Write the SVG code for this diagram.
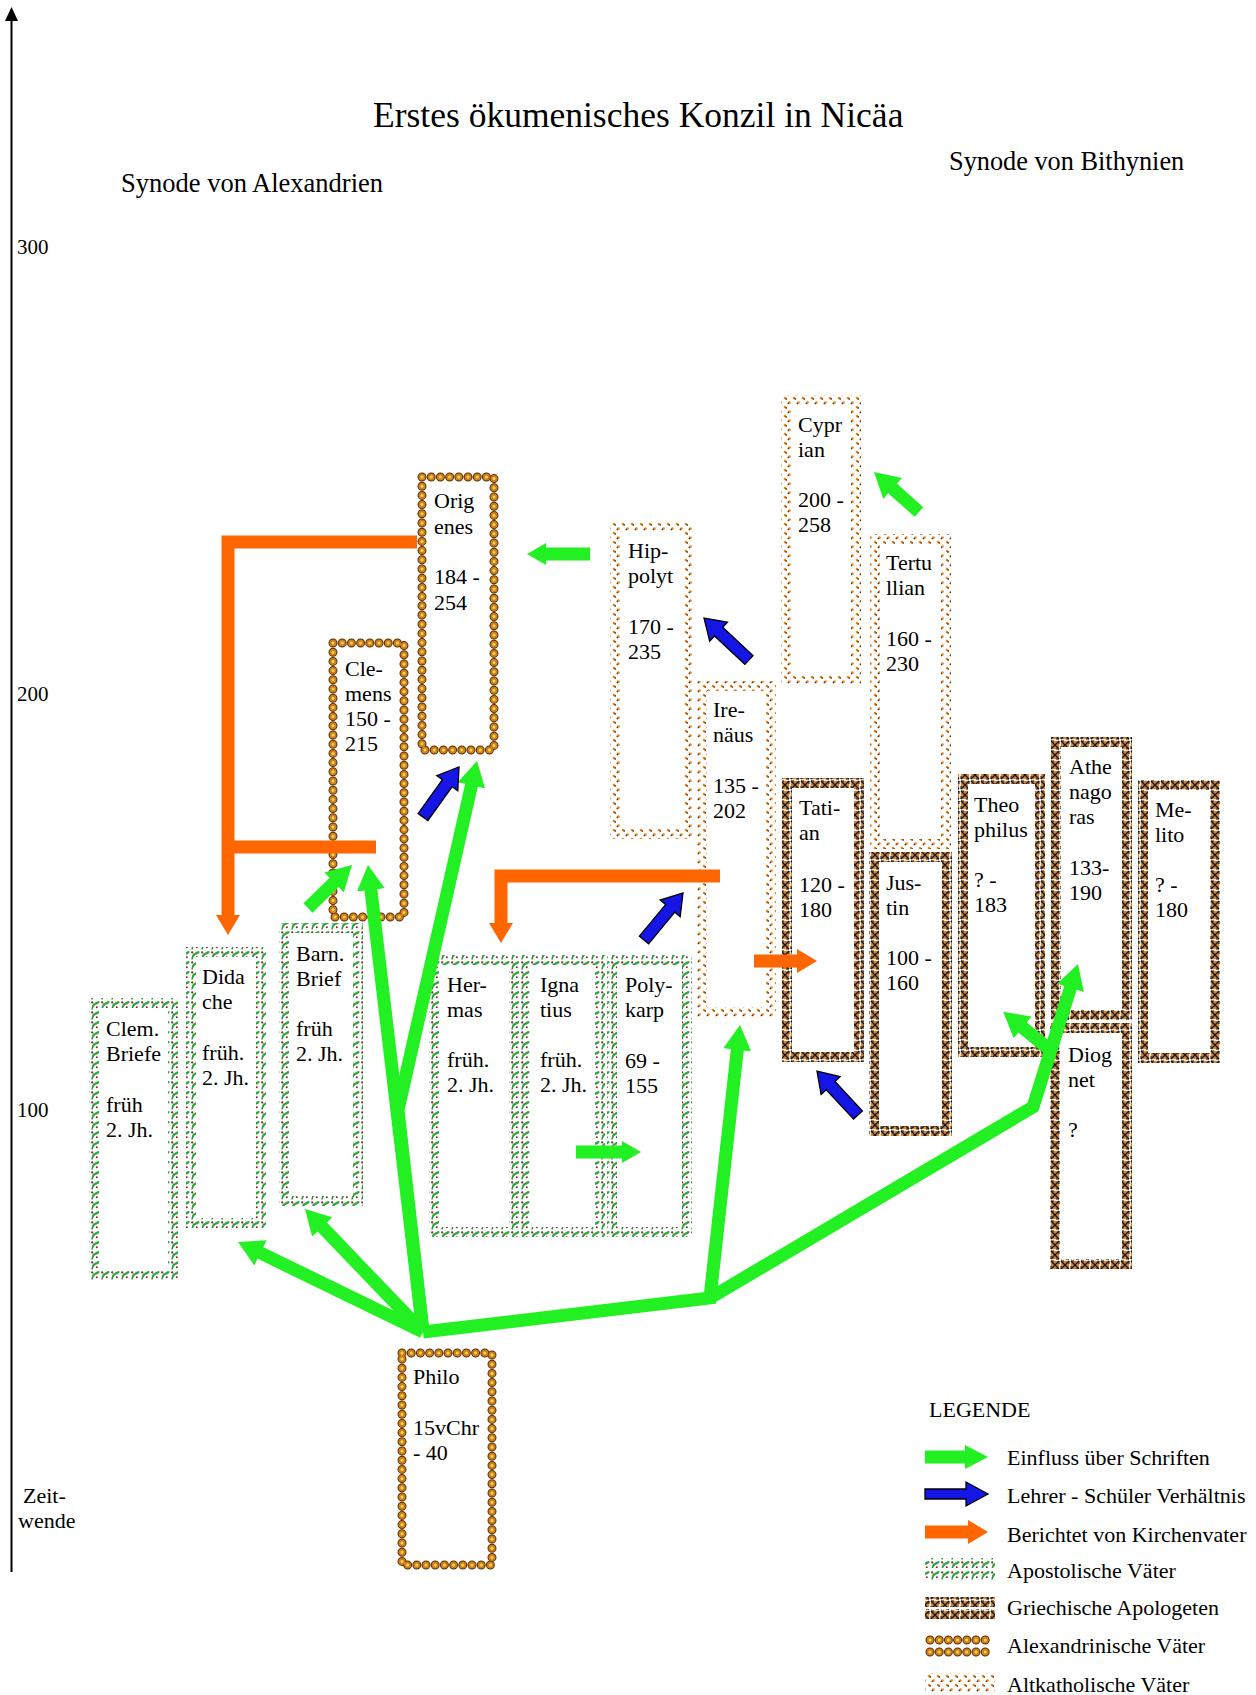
<svg xmlns="http://www.w3.org/2000/svg" width="1256" height="1695" viewBox="0 0 1256 1695">
<style>
.t{font-family:"Liberation Serif","Times New Roman",serif;font-size:22px;fill:#000}
.h{font-family:"Liberation Serif","Times New Roman",serif;fill:#000}
.bg{fill:#fff}
.apo{fill:none;stroke:url(#pApo);stroke-width:10}
.gr{fill:none;stroke:url(#pGr);stroke-width:10}
.alt{fill:none;stroke:url(#pAlt);stroke-width:10}
.ax1{fill:none;stroke:#5a2e06;stroke-width:9;stroke-dasharray:0 9.2;stroke-linecap:round}
.ax2{fill:none;stroke:#cf7f1e;stroke-width:7;stroke-dasharray:0 9.2;stroke-linecap:round}
.ax3{fill:none;stroke:#f6dc4a;stroke-width:3;stroke-dasharray:0 9.2;stroke-linecap:round}
.g{fill:none;stroke:#22f022;stroke-width:13;stroke-linejoin:miter}
.o{fill:none;stroke:#ff6600;stroke-width:13;stroke-linejoin:miter}
.b{fill:#1515e6;stroke:#000;stroke-width:1.3;stroke-linejoin:miter}
</style>
<defs>
<pattern id="pApo" width="10" height="10" patternUnits="userSpaceOnUse">
<rect width="10" height="10" fill="#fff"/>
<path d="M2,9.5 C2.4,6 4,4 7.5,2.5" stroke="#238a30" stroke-width="1.4" fill="none"/>
<ellipse cx="7.2" cy="2.8" rx="2.6" ry="1.3" fill="#2fa83c" transform="rotate(-30 7.2 2.8)"/>
<ellipse cx="3.4" cy="5.4" rx="2.2" ry="1.1" fill="#2fa83c" transform="rotate(-70 3.4 5.4)"/>
<circle cx="2.2" cy="2.4" r="1.1" fill="#8a1f3d"/>
<circle cx="6.8" cy="7.2" r="1" fill="#8a1f3d"/>
</pattern>
<pattern id="pGr" width="10" height="10" patternUnits="userSpaceOnUse">
<rect width="10" height="10" fill="#fff"/>
<rect x="0.8" y="0.8" width="8.4" height="8.4" fill="#d0843a"/>
<path d="M1,1 L9,9 M9,1 L1,9" stroke="#141414" stroke-width="1.3" fill="none"/>
<path d="M1,1 H4 M6,9 H9 M1,6 V9 M9,1 V4" stroke="#141414" stroke-width="1" fill="none"/>
</pattern>
<pattern id="pAlt" width="9" height="9" patternUnits="userSpaceOnUse">
<rect width="9" height="9" fill="#fff"/>
<circle cx="2" cy="2" r="1.3" fill="#e8891c"/>
<circle cx="3.2" cy="2.9" r="0.85" fill="#6b2e0a"/>
<circle cx="6.5" cy="6.5" r="1.3" fill="#e8891c"/>
<circle cx="5.4" cy="7.4" r="0.85" fill="#6b2e0a"/>
</pattern>
<marker id="mG" markerUnits="userSpaceOnUse" markerWidth="25" markerHeight="28" refX="1" refY="14" orient="auto" viewBox="0 0 25 28"><path d="M0,0 L25,14 L0,28 z" fill="#22f022"/></marker>
<marker id="mGs" markerUnits="userSpaceOnUse" markerWidth="19" markerHeight="22" refX="1" refY="11" orient="auto" viewBox="0 0 19 22"><path d="M0,0 L19,11 L0,22 z" fill="#22f022"/></marker>
<marker id="mGl" markerUnits="userSpaceOnUse" markerWidth="23" markerHeight="24" refX="1" refY="12" orient="auto" viewBox="0 0 23 24"><path d="M0,0 L23,12 L0,24 z" fill="#22f022"/></marker>
<marker id="mO" markerUnits="userSpaceOnUse" markerWidth="20" markerHeight="24" refX="1" refY="12" orient="auto" viewBox="0 0 20 24"><path d="M0,0 L20,12 L0,24 z" fill="#ff6600"/></marker>
</defs>
<rect width="1256" height="1695" fill="#fff"/>

<g id="axis">
<line x1="11.5" y1="20" x2="11.5" y2="1572" stroke="#000" stroke-width="2"/>
<polygon points="5,21 18,21 11.5,7" fill="#000"/>
<text class="h" x="17" y="254" font-size="21">300</text>
<text class="h" x="17" y="701" font-size="21">200</text>
<text class="h" x="17" y="1117" font-size="21">100</text>
<text class="t" x="23" y="1503">Zeit-</text>
<text class="t" x="18" y="1528">wende</text>
</g>

<g id="headings">
<text class="h" x="373" y="127" font-size="35.5">Erstes ökumenisches Konzil in Nicäa</text>
<text class="h" x="121" y="192" font-size="26.5">Synode von Alexandrien</text>
<text class="h" x="949" y="170" font-size="26.3">Synode von Bithynien</text>
</g>

<!-- Alexandrinische Väter -->
<g id="origenes">
<rect class="bg" x="417" y="472" width="82" height="283"/>
<rect class="ax1" x="422" y="477" width="72" height="273"/><rect class="ax2" x="422" y="477" width="72" height="273"/><rect class="ax3" x="422" y="477" width="72" height="273"/>
<text class="t"><tspan x="434" y="508">Orig</tspan><tspan x="434" y="534">enes</tspan><tspan x="434" y="584">184 -</tspan><tspan x="434" y="610">254</tspan></text>
</g>
<g id="clemens">
<rect class="bg" x="328" y="638" width="81" height="284"/>
<rect class="ax1" x="333" y="643" width="71" height="274"/><rect class="ax2" x="333" y="643" width="71" height="274"/><rect class="ax3" x="333" y="643" width="71" height="274"/>
<text class="t"><tspan x="345" y="676">Cle-</tspan><tspan x="345" y="701">mens</tspan><tspan x="345" y="726">150 -</tspan><tspan x="345" y="751">215</tspan></text>
</g>
<g id="philo">
<rect class="bg" x="397" y="1348" width="100" height="222"/>
<rect class="ax1" x="402" y="1353" width="90" height="212"/><rect class="ax2" x="402" y="1353" width="90" height="212"/><rect class="ax3" x="402" y="1353" width="90" height="212"/>
<text class="t"><tspan x="413" y="1384">Philo</tspan><tspan x="413" y="1435">15vChr</tspan><tspan x="413" y="1460">- 40</tspan></text>
</g>

<!-- Altkatholische Väter -->
<g id="hipolyt">
<rect class="bg" x="610" y="522" width="83" height="317"/>
<rect class="alt" x="615" y="527" width="73" height="307"/>
<text class="t"><tspan x="628" y="558">Hip-</tspan><tspan x="628" y="583">polyt</tspan><tspan x="628" y="634">170 -</tspan><tspan x="628" y="659">235</tspan></text>
</g>
<g id="irenaeus">
<rect class="bg" x="697" y="681" width="79" height="336"/>
<rect class="alt" x="702" y="686" width="69" height="326"/>
<text class="t"><tspan x="713" y="717">Ire-</tspan><tspan x="713" y="742">näus</tspan><tspan x="713" y="793">135 -</tspan><tspan x="713" y="818">202</tspan></text>
</g>
<g id="cyprian">
<rect class="bg" x="781" y="395" width="80" height="290"/>
<rect class="alt" x="786" y="400" width="70" height="280"/>
<text class="t"><tspan x="798" y="432">Cypr</tspan><tspan x="798" y="457">ian</tspan><tspan x="798" y="507">200 -</tspan><tspan x="798" y="532">258</tspan></text>
</g>
<g id="tertullian">
<rect class="bg" x="870" y="534" width="81" height="315"/>
<rect class="alt" x="875" y="539" width="71" height="305"/>
<text class="t"><tspan x="886" y="570">Tertu</tspan><tspan x="886" y="595">llian</tspan><tspan x="886" y="646">160 -</tspan><tspan x="886" y="671">230</tspan></text>
</g>

<!-- Griechische Apologeten -->
<g id="tatian">
<rect class="bg" x="782" y="778" width="82" height="284"/>
<rect class="gr" x="787" y="783" width="72" height="274"/>
<text class="t"><tspan x="799" y="815">Tati-</tspan><tspan x="799" y="840">an</tspan><tspan x="799" y="892">120 -</tspan><tspan x="799" y="917">180</tspan></text>
</g>
<g id="justin">
<rect class="bg" x="869" y="852" width="83" height="284"/>
<rect class="gr" x="874" y="857" width="73" height="274"/>
<text class="t"><tspan x="886" y="890">Jus-</tspan><tspan x="886" y="915">tin</tspan><tspan x="886" y="965">100 -</tspan><tspan x="886" y="990">160</tspan></text>
</g>
<g id="theophilus">
<rect class="bg" x="958" y="774" width="87" height="283"/>
<rect class="gr" x="963" y="779" width="77" height="273"/>
<text class="t"><tspan x="974" y="812">Theo</tspan><tspan x="974" y="837">philus</tspan><tspan x="974" y="887">? -</tspan><tspan x="974" y="912">183</tspan></text>
</g>
<g id="athenagoras">
<rect class="bg" x="1051" y="737" width="81" height="283"/>
<rect class="gr" x="1056" y="742" width="71" height="273"/>
<text class="t"><tspan x="1069" y="774">Athe</tspan><tspan x="1069" y="799">nago</tspan><tspan x="1069" y="824">ras</tspan><tspan x="1069" y="875">133-</tspan><tspan x="1069" y="900">190</tspan></text>
</g>
<g id="diognet">
<rect class="bg" x="1050" y="1023" width="82" height="246"/>
<rect class="gr" x="1055" y="1028" width="72" height="236"/>
<text class="t"><tspan x="1068" y="1062">Diog</tspan><tspan x="1068" y="1087">net</tspan><tspan x="1068" y="1137">?</tspan></text>
</g>
<g id="melito">
<rect class="bg" x="1138" y="780" width="82" height="283"/>
<rect class="gr" x="1143" y="785" width="72" height="273"/>
<text class="t"><tspan x="1155" y="817">Me-</tspan><tspan x="1155" y="842">lito</tspan><tspan x="1155" y="892">? -</tspan><tspan x="1155" y="917">180</tspan></text>
</g>

<!-- Apostolische Väter -->
<g id="clembriefe">
<rect class="bg" x="89" y="998" width="89" height="282"/>
<rect class="apo" x="94" y="1003" width="79" height="272"/>
<text class="t"><tspan x="106" y="1036">Clem.</tspan><tspan x="106" y="1061">Briefe</tspan><tspan x="106" y="1112">früh</tspan><tspan x="106" y="1137">2. Jh.</tspan></text>
</g>
<g id="didache">
<rect class="bg" x="186" y="947" width="80" height="281"/>
<rect class="apo" x="191" y="952" width="70" height="271"/>
<text class="t"><tspan x="202" y="984">Dida</tspan><tspan x="202" y="1009">che</tspan><tspan x="202" y="1060">früh.</tspan><tspan x="202" y="1085">2. Jh.</tspan></text>
</g>
<g id="barnabas">
<rect class="bg" x="279" y="923" width="84" height="283"/>
<rect class="apo" x="284" y="928" width="74" height="273"/>
<text class="t"><tspan x="296" y="961">Barn.</tspan><tspan x="296" y="986">Brief</tspan><tspan x="296" y="1036">früh</tspan><tspan x="296" y="1061">2. Jh.</tspan></text>
</g>
<g id="hermas">
<rect class="bg" x="429" y="955" width="90" height="282"/>
<rect class="apo" x="434" y="960" width="80" height="272"/>
<text class="t"><tspan x="447" y="992">Her-</tspan><tspan x="447" y="1017">mas</tspan><tspan x="447" y="1067">früh.</tspan><tspan x="447" y="1092">2. Jh.</tspan></text>
</g>
<g id="ignatius">
<rect class="bg" x="520" y="955" width="85" height="282"/>
<rect class="apo" x="525" y="960" width="75" height="272"/>
<text class="t"><tspan x="540" y="992">Igna</tspan><tspan x="540" y="1017">tius</tspan><tspan x="540" y="1067">früh.</tspan><tspan x="540" y="1092">2. Jh.</tspan></text>
</g>
<g id="polykarp">
<rect class="bg" x="607" y="955" width="85" height="282"/>
<rect class="apo" x="612" y="960" width="75" height="272"/>
<text class="t"><tspan x="625" y="992">Poly-</tspan><tspan x="625" y="1017">karp</tspan><tspan x="625" y="1068">69 -</tspan><tspan x="625" y="1093">155</tspan></text>
</g>

<g id="connectors">
<!-- orange: Berichtet von Kirchenvater -->
<path class="o" d="M417,542 H228 V916" marker-end="url(#mO)"/>
<path class="o" d="M228,847 H376" stroke-width="12"/>
<path class="o" d="M720,876 H501 V924" marker-end="url(#mO)"/>
<path class="o" d="M754,961 H798" stroke-width="12" marker-end="url(#mO)"/>
<!-- green: Einfluss über Schriften -->
<path class="g" d="M423,1332 L259.6,1252.5" marker-end="url(#mG)"/>
<path class="g" d="M423,1332 L321.6,1226.3" marker-end="url(#mG)"/>
<path class="g" d="M423,1332 L370.8,888.8" marker-end="url(#mG)"/>
<path class="g" d="M423,1332 L398,1110 L471.7,784.4" marker-end="url(#mG)"/>
<path class="g" d="M423,1332 L710,1298 L737.4,1048.9" marker-end="url(#mG)"/>
<path class="g" d="M710,1298 L1033,1107 L1070.8,986.9" marker-end="url(#mG)"/>
<path class="g" d="M1050,1050 L1021.8,1026.9" marker-end="url(#mG)"/>
<path class="g" d="M308,908 L334.8,881.8" marker-end="url(#mG)"/>
<path class="g" d="M919,512 L891.9,487.9" marker-end="url(#mG)"/>
<path class="g" d="M590,554 H545" marker-end="url(#mGs)"/>
<path class="g" d="M576,1152 H623" stroke-width="11" marker-end="url(#mGs)"/>
<!-- blue: Lehrer - Schüler -->
<polygon class="b" points="427.9,820.5 452.2,786.7 457.8,790.8 459,767 436.8,775.6 442.4,779.7 418.1,813.5"/>
<polygon class="b" points="753.1,655.6 722.7,627.2 727.5,622.1 704,618 709.7,641.1 714.5,636 744.9,664.4"/>
<polygon class="b" points="648.6,943.8 674.8,912.2 680.2,916.7 683,893 660.2,900.1 665.6,904.6 639.4,936.2"/>
<polygon class="b" points="862.4,1110.9 835,1081.5 840.1,1076.7 817,1071 821.1,1094.5 826.2,1089.7 853.6,1119.1"/>
</g>

<g id="legend">
<text class="t" x="929" y="1417">LEGENDE</text>
<path class="g" d="M925,1457 H966" stroke-width="10" marker-end="url(#mGl)"/>
<polygon class="b" points="925,1489 966,1489 966,1482 988,1494 966,1506 966,1499 925,1499"/>
<path class="o" d="M925,1532 H969" stroke-width="10" marker-end="url(#mO)"/>
<rect x="925" y="1558" width="70" height="10" fill="url(#pApo)"/>
<rect x="925" y="1570" width="70" height="10" fill="url(#pApo)"/>
<rect x="925" y="1597" width="70" height="10" fill="url(#pGr)"/>
<rect x="925" y="1609" width="70" height="10" fill="url(#pGr)"/>
<path class="ax1" d="M930,1640 H994 M930,1652 H994"/><path class="ax2" d="M930,1640 H994 M930,1652 H994"/><path class="ax3" d="M930,1640 H994 M930,1652 H994"/>
<rect x="925" y="1673" width="70" height="9" fill="url(#pAlt)"/>
<rect x="925" y="1684" width="70" height="9" fill="url(#pAlt)"/>
<text class="t" x="1007" y="1465">Einfluss über Schriften</text>
<text class="t" x="1007" y="1503">Lehrer - Schüler Verhältnis</text>
<text class="t" x="1007" y="1542">Berichtet von Kirchenvater</text>
<text class="t" x="1007" y="1578">Apostolische Väter</text>
<text class="t" x="1007" y="1615">Griechische Apologeten</text>
<text class="t" x="1007" y="1653">Alexandrinische Väter</text>
<text class="t" x="1007" y="1692">Altkatholische Väter</text>
</g>
</svg>
